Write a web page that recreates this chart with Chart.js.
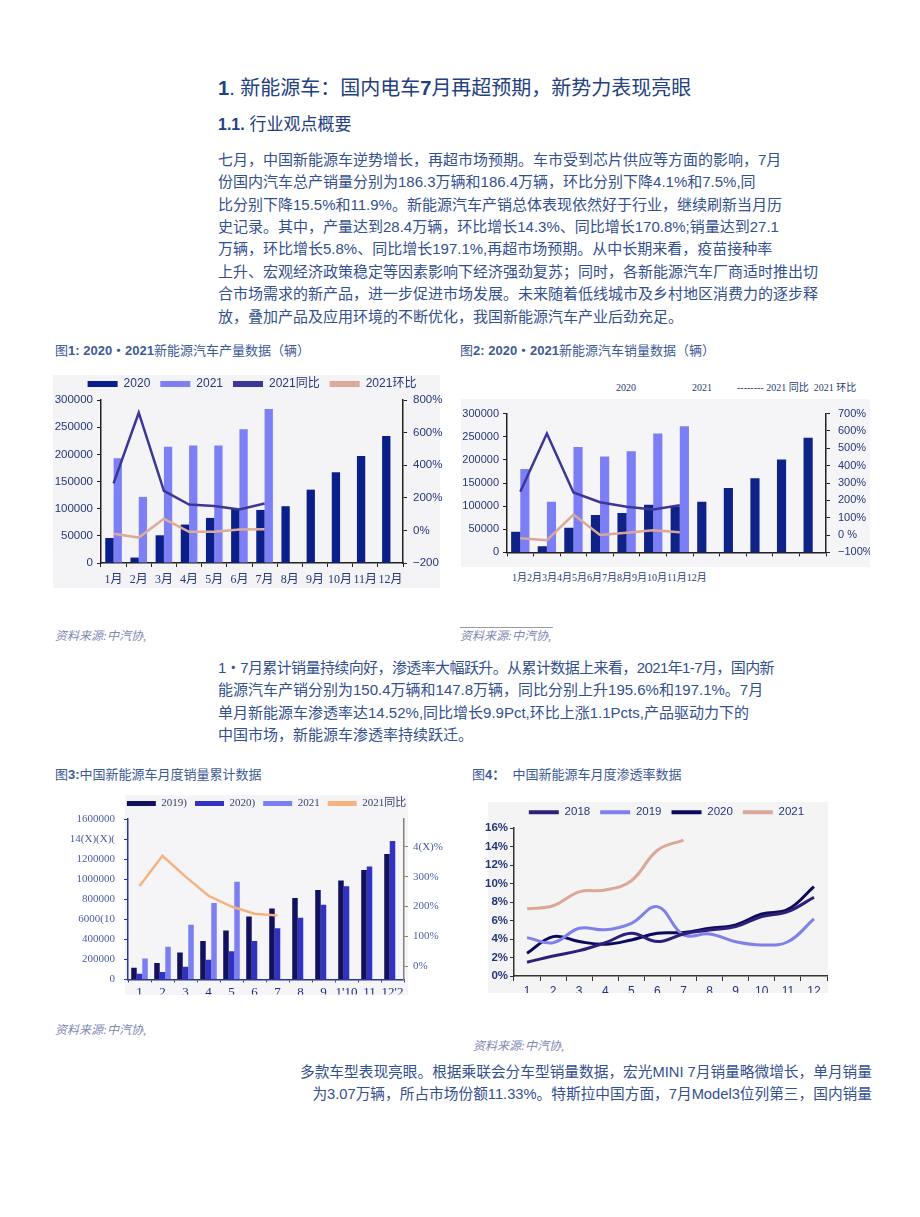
<!DOCTYPE html>
<html>
<head>
<meta charset="utf-8">
<script src="https://cdn.jsdelivr.net/npm/chart.js@4.4.0/dist/chart.umd.min.js"></script>
<style>
  body { margin: 0; background: #fff; }
  #page { position: relative; width: 920px; height: 1217px; overflow: hidden;
          font-family: "Liberation Sans", "Noto Sans CJK SC", sans-serif; color: #34508f; }
  .t { position: absolute; white-space: nowrap; }
  .para { position: absolute; white-space: nowrap; font-size: 15px; }
  .figt { position: absolute; white-space: nowrap; font-size: 13px; line-height: 16px; color: #3d5a96; }
  .src { position: absolute; white-space: nowrap; font-family: "Liberation Serif", "Noto Sans CJK SC", serif;
         font-style: italic; font-size: 12px; line-height: 14px; color: #8088b3; }
  .ser { font-family: "Liberation Serif", "Noto Sans CJK SC", serif; }
  canvas { position: absolute; }
</style>
</head>
<body>
<div id="page">
  <div class="t" style="left:218px;top:76px;font-size:20px;line-height:24px;color:#23407f;"><b>1</b>. 新能源车：国内电车<b>7</b>月再超预期，新势力表现亮眼</div>
  <div class="t" style="left:218px;top:113px;font-size:17px;line-height:24px;color:#23407f;"><b style="font-size:16px">1.1.</b> 行业观点概要</div>

  <div class="para" style="left:218px;top:148.8px;line-height:22.4px;">
    <div>七月，中国新能源车逆势增长，再超市场预期。车市受到芯片供应等方面的影响，7月</div>
    <div>份国内汽车总产销量分别为186.3万辆和186.4万辆，环比分别下降4.1%和7.5%,同</div>
    <div>比分别下降15.5%和11.9%。新能源汽车产销总体表现依然好于行业，继续刷新当月历</div>
    <div>史记录。其中，产量达到28.4万辆，环比增长14.3%、同比增长170.8%;销量达到27.1</div>
    <div>万辆，环比增长5.8%、同比增长197.1%,再超市场预期。从中长期来看，疫苗接种率</div>
    <div>上升、宏观经济政策稳定等因素影响下经济强劲复苏；同时，各新能源汽车厂商适时推出切</div>
    <div>合市场需求的新产品，进一步促进市场发展。未来随着低线城市及乡村地区消费力的逐步释</div>
    <div>放，叠加产品及应用环境的不断优化，我国新能源汽车产业后劲充足。</div>
  </div>

  <div class="figt" style="left:55px;top:343px;">图<b>1: 2020・2021</b>新能源汽车产量数据（辆）</div>
  <div class="figt" style="left:460px;top:343px;">图<b>2: 2020・2021</b>新能源汽车销量数据（辆）</div>

  <canvas id="c1" width="398" height="223" style="left:53px;top:365px;width:398px;height:223px;"></canvas>

  <div class="t ser" style="left:616px;top:381px;font-size:10px;line-height:14px;color:#2b3a78;">2020</div>
  <div class="t ser" style="left:692px;top:381px;font-size:10px;line-height:14px;color:#2b3a78;">2021</div>
  <div class="t ser" style="left:737px;top:381px;font-size:10px;line-height:14px;color:#2b3a78;">-------- 2021 同比&nbsp;&nbsp;2021 环比</div>
  <canvas id="c2" width="409" height="168" style="left:461px;top:399px;width:409px;height:168px;"></canvas>
  <div id="c2x" class="t ser" style="left:512px;top:571px;font-size:10px;line-height:14px;color:#2b3a78;"></div>

  <div class="src" style="left:55px;top:629px;">资料来源:中汽协,</div>
  <div style="position:absolute;left:460px;top:627px;width:93px;height:1px;background:#9a9a9a;"></div>
  <div class="src" style="left:460px;top:629px;">资料来源:中汽协,</div>

  <div class="para" style="left:218px;top:656.75px;line-height:22.5px;">
    <div style="letter-spacing:-0.6px;">1・7月累计销量持续向好，渗透率大幅跃升。从累计数据上来看，2021年1-7月，国内新</div>
    <div>能源汽车产销分别为150.4万辆和147.8万辆，同比分别上升195.6%和197.1%。7月</div>
    <div>单月新能源车渗透率达14.52%,同比增长9.9Pct,环比上涨1.1Pcts,产品驱动力下的</div>
    <div>中国市场，新能源车渗透率持续跃迁。</div>
  </div>

  <div class="figt" style="left:55px;top:767px;">图<b>3:</b>中国新能源车月度销量累计数据</div>
  <div class="figt" style="left:472px;top:767px;">图<b>4：</b>&nbsp;&nbsp;中国新能源车月度渗透率数据</div>

  <canvas id="c3" width="393" height="206" style="left:70px;top:789px;width:393px;height:206px;"></canvas>
  <canvas id="c4" width="365" height="203" style="left:484px;top:790px;width:365px;height:203px;"></canvas>

  <div class="src" style="left:55px;top:1023px;">资料来源:中汽协,</div>
  <div class="src" style="left:473px;top:1039px;">资料来源:中汽协,</div>

  <div class="para" style="right:48px;top:1061px;line-height:22px;text-align:right;font-size:14.7px;">
    <div>多款车型表现亮眼。根据乘联会分车型销量数据，宏光MINI 7月销量略微增长，单月销量</div>
    <div>为3.07万辆，所占市场份额11.33%。特斯拉中国方面，7月Model3位列第三，国内销量</div>
  </div>
</div>

<script>
// ---- data ----
const months = ['1月', '2月', '3月', '4月', '5月', '6月', '7月', '8月', '9月', '10月', '11月', '12月'];

// fig 1: production
const prod2020 = [46000, 10000, 51000, 70700, 83000, 100000, 97700, 104500, 135000, 167000, 197000, 233600];
const prod2021 = [193000, 121700, 214000, 216400, 216400, 246000, 283400];
const prodYoY = [288, 722, 243, 159, 150, 128, 165];
const prodMoM = [-20, -44, 71, -9, -9, 5, 7];

// fig 2: sales
const sales2020 = [44500, 13500, 53500, 80600, 85200, 103200, 99400, 109700, 139400, 160000, 200600, 247700];
const sales2021 = [180000, 109700, 227700, 207100, 218700, 256800, 272900];
const salesYoY = [250, 585, 245, 189, 163, 148, 172];
const salesMoM = [-18, -30, 118, 1, 13, 28, 16];

// fig 3: cumulative sales
const cumLabels = ['1', '2', '3', '4', '5', '6', '7', '8', '9', "1'10", '11', "12'2"];
const cum2019 = [116000, 163000, 269000, 382000, 488000, 627000, 707000, 813000, 893000, 986000, 1092000, 1251000];
const cum2020 = [56000, 73000, 126000, 196000, 282000, 382000, 511000, 614000, 744000, 929000, 1125000, 1381000];
const cum2021 = [209000, 325000, 544000, 763000, 973000];
const cumYoY = [269, 370, 300, 236, 200, 176, 170];
const cumLeftTicks = ['0', '200000', '400000', '6000(10', '800000', '1000000', '1200000', '14(X)(X)(', '1600000'];
const cumRightValues = [0, 100, 200, 300, 400];
const cumRightTicks = ['0%', '100%', '200%', '300%', '4(X)%'];

// fig 4: penetration rate (%)
const penLabels = ['1', '2', '3', '4', '5', '6', '7', '8', '9', '10', '11', '12'];
const pen2018 = [1.48, 2.17, 2.74, 3.6, 4.62, 3.72, 4.55, 4.98, 5.34, 6.43, 6.97, 8.52];
const pen2019 = [4.15, 3.6, 5.16, 5.0, 5.7, 7.5, 4.44, 4.55, 3.7, 3.36, 3.7, 6.17];
const pen2020 = [2.45, 4.26, 3.72, 3.43, 3.9, 4.62, 4.7, 5.16, 5.52, 6.7, 7.2, 9.67];
const pen2021 = [7.26, 7.6, 9.1, 9.3, 10.3, 13.6, 14.7];

// ---- setup ----
Chart.defaults.font.family = '"Liberation Sans","Noto Sans CJK SC",sans-serif';
Chart.defaults.animation = false;
Chart.defaults.responsive = false;
Chart.defaults.devicePixelRatio = 1;
Chart.defaults.plugins.tooltip.enabled = false;

const TXT = '#26367a';
const SERIF = '"Liberation Serif","Noto Sans CJK SC",serif';

// grey panel behind each chart
const panel = {
    id: 'panel',
    beforeDraw(chart, args, opts) {
        const ctx = chart.ctx;
        ctx.save();
        ctx.fillStyle = opts.color;
        ctx.fillRect(opts.x, opts.y, opts.w, opts.h);
        ctx.restore();
    }
};

const baseLabels = Chart.defaults.plugins.legend.labels.generateLabels;
const flatLabels = c => baseLabels(c).map(l => Object.assign(l, { lineWidth: 0 }));
const byIndex = (a, b) => a.datasetIndex - b.datasetIndex;
const plain = v => String(v);

function fitW(w, top) {
    return s => { s.width = w; if (top !== undefined) s.paddingTop = top; };
}
function fitH(h) {
    return s => { s.height = h; };
}

document.getElementById('c2x').textContent = months.join('');

// fig 1
new Chart(document.getElementById('c1'), {
    type: 'bar',
    data: {
        labels: months,
        datasets: [
            { label: '2020', data: prod2020, backgroundColor: '#0b1f8a', order: 1, yAxisID: 'y' },
            { label: '2021', data: prod2021, backgroundColor: '#7d7ff5', order: 1, yAxisID: 'y' },
            { type: 'line', label: '2021同比', data: prodYoY, borderColor: '#3c3796', backgroundColor: '#3c3796',
              borderWidth: 2.5, pointRadius: 0, order: 0, yAxisID: 'y1' },
            { type: 'line', label: '2021环比', data: prodMoM, borderColor: '#dcab9b', backgroundColor: '#dcab9b',
              borderWidth: 2.5, pointRadius: 0, order: 0, yAxisID: 'y1' }
        ]
    },
    options: {
        datasets: { bar: { categoryPercentage: 0.66, barPercentage: 1 } },
        plugins: {
            panel: { x: 0, y: 10, w: 387, h: 213, color: '#f4f4f6' },
            legend: {
                labels: { boxWidth: 30, boxHeight: 6, padding: 10, color: TXT, font: { size: 12 },
                          generateLabels: flatLabels, sort: byIndex }
            }
        },
        scales: {
            x: {
                ticks: { color: TXT, font: { size: 12, family: SERIF }, padding: 6,
                         maxRotation: 0, autoSkip: false },
                grid: { drawOnChartArea: false, tickLength: 4, color: '#222' },
                border: { color: '#222', width: 1.5 },
                afterFit: fitH(25)
            },
            y: {
                min: 0, max: 300000,
                ticks: { stepSize: 50000, color: TXT, font: { size: 11.5 }, padding: 4, callback: plain },
                grid: { drawOnChartArea: false, tickLength: 4, color: '#222' },
                border: { color: '#222', width: 1.5 },
                afterFit: fitW(48, 35)
            },
            y1: {
                position: 'right', min: -200, max: 800,
                ticks: { stepSize: 200, color: TXT, font: { size: 11.5 }, padding: 6,
                         callback: v => v < 0 ? '−200' : v + '%' },
                grid: { drawOnChartArea: false, tickLength: 4, color: '#222' },
                border: { color: '#222', width: 1.5 },
                afterFit: fitW(48)
            }
        }
    },
    plugins: [panel]
});

// fig 2
new Chart(document.getElementById('c2'), {
    type: 'bar',
    data: {
        labels: months,
        datasets: [
            { label: '2020', data: sales2020, backgroundColor: '#0e2288', order: 1, yAxisID: 'y' },
            { label: '2021', data: sales2021, backgroundColor: '#7c7ef6', order: 1, yAxisID: 'y' },
            { type: 'line', label: '2021同比', data: salesYoY, borderColor: '#3c3796',
              borderWidth: 2.5, pointRadius: 0, order: 0, yAxisID: 'y1' },
            { type: 'line', label: '2021环比', data: salesMoM, borderColor: '#d9a898',
              borderWidth: 2.5, pointRadius: 0, order: 0, yAxisID: 'y1' }
        ]
    },
    options: {
        datasets: { bar: { categoryPercentage: 0.69, barPercentage: 1 } },
        plugins: {
            panel: { x: 0, y: 0, w: 409, h: 168, color: '#f5f5f7' },
            legend: { display: false }
        },
        scales: {
            x: {
                ticks: { display: false },
                grid: { drawOnChartArea: false, tickLength: 4, color: '#222' },
                border: { color: '#222', width: 1.5 },
                afterFit: fitH(9)
            },
            y: {
                min: 0, max: 300000,
                ticks: { stepSize: 50000, color: TXT, font: { size: 11 }, padding: 4, callback: plain },
                grid: { drawOnChartArea: false, tickLength: 4, color: '#222' },
                border: { color: '#222', width: 1.5 },
                afterFit: fitW(46, 7)
            },
            y1: {
                position: 'right', min: -100, max: 700,
                ticks: { stepSize: 100, color: TXT, font: { size: 11 }, padding: 8,
                         callback: v => v < 0 ? '−100%' : (v === 0 ? '0 %' : v + '%') },
                grid: { drawOnChartArea: false, tickLength: 4, color: '#222' },
                border: { color: '#222', width: 1.5 },
                afterFit: fitW(44)
            }
        }
    },
    plugins: [panel]
});

// fig 3
new Chart(document.getElementById('c3'), {
    type: 'bar',
    data: {
        labels: cumLabels,
        datasets: [
            { label: '2019)', data: cum2019, backgroundColor: '#11115f', order: 1, yAxisID: 'y' },
            { label: '2020)', data: cum2020, backgroundColor: '#3131c2', order: 1, yAxisID: 'y' },
            { label: '2021', data: cum2021, backgroundColor: '#7b7ff1', order: 1, yAxisID: 'y' },
            { type: 'line', label: '2021同比', data: cumYoY, borderColor: '#f6b27e', backgroundColor: '#f6b27e',
              borderWidth: 2.5, pointRadius: 0, order: 0, yAxisID: 'y1' }
        ]
    },
    options: {
        datasets: { bar: { categoryPercentage: 0.72, barPercentage: 1 } },
        plugins: {
            panel: { x: 55, y: 6, w: 283, h: 200, color: '#f5f5f7' },
            legend: {
                labels: { boxWidth: 29, boxHeight: 5, padding: 8, color: '#3a3f6e',
                          font: { size: 11, family: SERIF }, generateLabels: flatLabels, sort: byIndex }
            }
        },
        scales: {
            x: {
                ticks: { color: '#1f2d7a', font: { size: 13, family: SERIF }, padding: 2,
                         maxRotation: 0, autoSkip: false },
                grid: { drawOnChartArea: false, tickLength: 3, color: '#283593' },
                border: { color: '#283593', width: 1.5 },
                afterFit: fitH(15)
            },
            y: {
                min: 0, max: 1600000,
                ticks: { stepSize: 200000, color: '#4b5ba8', font: { size: 11, family: SERIF }, padding: 9,
                         callback: (v, i) => cumLeftTicks[i] },
                grid: { drawOnChartArea: false, tickLength: 4, color: '#283593' },
                border: { color: '#283593', width: 1.5 },
                afterFit: fitW(58, 30)
            },
            y1: {
                position: 'right', min: -44, max: 493,
                afterBuildTicks: s => { s.ticks = cumRightValues.map(v => ({ value: v })); },
                ticks: { color: '#4b5ba8', font: { size: 11, family: SERIF }, padding: 5,
                         callback: (v, i) => cumRightTicks[i] },
                grid: { drawOnChartArea: false, tickLength: 4, color: '#8a7f78' },
                border: { color: '#8a7f78', width: 1.5 },
                afterFit: fitW(59)
            }
        }
    },
    plugins: [panel]
});

// fig 4
new Chart(document.getElementById('c4'), {
    type: 'line',
    data: {
        labels: penLabels,
        datasets: [
            { label: '2018', data: pen2018, borderColor: '#2e1f7a', backgroundColor: '#2e1f7a' },
            { label: '2019', data: pen2019, borderColor: '#8080ea', backgroundColor: '#8080ea' },
            { label: '2020', data: pen2020, borderColor: '#0b0b5c', backgroundColor: '#0b0b5c' },
            { label: '2021', data: pen2021, borderColor: '#dba898', backgroundColor: '#dba898' }
        ]
    },
    options: {
        datasets: { line: { borderWidth: 3, pointRadius: 0, tension: 0.4 } },
        plugins: {
            panel: { x: 4, y: 12, w: 340, h: 191, color: '#f4f4f5' },
            legend: {
                labels: { boxWidth: 30, boxHeight: 4, padding: 10, color: TXT, font: { size: 11.5 },
                          generateLabels: flatLabels }
            }
        },
        scales: {
            x: {
                offset: true,
                ticks: { color: TXT, font: { size: 12 }, padding: 3, maxRotation: 0, autoSkip: false },
                grid: { offset: true, drawOnChartArea: false, tickLength: 5, color: '#333' },
                border: { color: '#333', width: 1.5 },
                afterFit: fitH(17)
            },
            y: {
                min: 0, max: 16,
                ticks: { stepSize: 2, color: TXT, font: { size: 11.5, weight: 'bold' }, padding: 2,
                         callback: v => v + '%' },
                grid: { drawOnChartArea: false, tickLength: 4, color: '#333' },
                border: { color: '#333', width: 1.5 },
                afterFit: fitW(30, 38)
            },
            y2: {
                position: 'right',
                ticks: { display: false },
                grid: { display: false },
                border: { display: false },
                afterFit: fitW(22)
            }
        }
    },
    plugins: [panel]
});
</script>
</body>
</html>
